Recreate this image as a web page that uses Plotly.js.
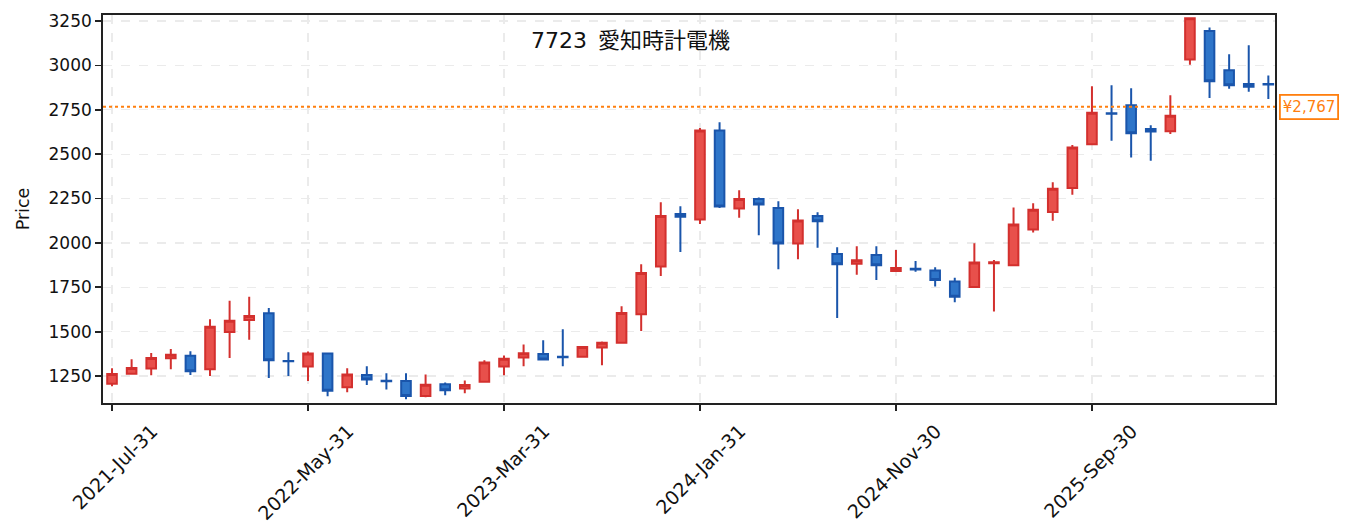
<!DOCTYPE html>
<html>
<head>
<meta charset="utf-8">
<script src="https://cdn.plot.ly/plotly-3.0.1.min.js"></script>
<style>
  html, body { margin: 0; padding: 0; background: #fff; }
  #chart { width: 1353px; height: 531px; }
</style>
</head>
<body>
<div id="chart"></div>
<script>
// month-end dates, one candle per month
const dates = [
  "2021-07-31", "2021-08-31", "2021-09-30", "2021-10-31", "2021-11-30", "2021-12-31",
  "2022-01-31", "2022-02-28", "2022-03-31", "2022-04-30", "2022-05-31", "2022-06-30",
  "2022-07-31", "2022-08-31", "2022-09-30", "2022-10-31", "2022-11-30", "2022-12-31",
  "2023-01-31", "2023-02-28", "2023-03-31", "2023-04-30", "2023-05-31", "2023-06-30",
  "2023-07-31", "2023-08-31", "2023-09-30", "2023-10-31", "2023-11-30", "2023-12-31",
  "2024-01-31", "2024-02-29", "2024-03-31", "2024-04-30", "2024-05-31", "2024-06-30",
  "2024-07-31", "2024-08-31", "2024-09-30", "2024-10-31", "2024-11-30", "2024-12-31",
  "2025-01-31", "2025-02-28", "2025-03-31", "2025-04-30", "2025-05-31", "2025-06-30",
  "2025-07-31", "2025-08-31", "2025-09-30", "2025-10-31", "2025-11-30", "2025-12-31",
  "2026-01-31", "2026-02-28", "2026-03-31", "2026-04-30", "2026-05-31", "2026-06-30"
];

const openPx = [
  1206, 1263, 1292, 1350, 1364, 1288, 1498, 1565, 1604, 1335,
  1303, 1377, 1187, 1256, 1223, 1222, 1138, 1204, 1180, 1218,
  1303, 1355, 1374, 1358, 1359, 1410, 1438, 1598, 1867, 2163,
  2132, 2633, 2194, 2248, 2197, 1996, 2152, 1938, 1882, 1932,
  1842, 1855, 1844, 1782, 1752, 1886, 1874, 2076, 2174, 2309,
  2556, 2731, 2776, 2642, 2629, 3033, 3194, 2973, 2895, 2895
];
const highPx = [
  1294, 1345, 1379, 1402, 1390, 1570, 1674, 1697, 1633, 1384,
  1388, 1377, 1294, 1305, 1265, 1265, 1259, 1214, 1225, 1339,
  1365, 1427, 1451, 1513, 1414, 1445, 1643, 1880, 2229, 2207,
  2647, 2680, 2297, 2256, 2235, 2190, 2173, 1976, 1981, 1981,
  1960, 1898, 1863, 1803, 1998, 1904, 2200, 2223, 2342, 2551,
  2883, 2888, 2871, 2663, 2832, 3268, 3213, 3063, 3114, 2943
];
const lowPx = [
  1193, 1263, 1254, 1288, 1256, 1250, 1352, 1455, 1239, 1250,
  1222, 1136, 1159, 1199, 1174, 1119, 1131, 1142, 1153, 1218,
  1254, 1305, 1342, 1305, 1359, 1310, 1438, 1504, 1814, 1949,
  2107, 2197, 2141, 2043, 1851, 1908, 1972, 1577, 1820, 1791,
  1840, 1838, 1754, 1666, 1752, 1613, 1874, 2058, 2125, 2271,
  2556, 2575, 2481, 2463, 2614, 3004, 2817, 2868, 2851, 2811
];
const closePx = [
  1261, 1295, 1352, 1370, 1277, 1528, 1562, 1588, 1339, 1333,
  1377, 1167, 1258, 1231, 1221, 1138, 1201, 1170, 1200, 1326,
  1348, 1378, 1343, 1356, 1414, 1438, 1605, 1831, 2152, 2147,
  2633, 2205, 2248, 2216, 1996, 2126, 2122, 1880, 1902, 1874,
  1858, 1850, 1791, 1696, 1889, 1891, 2103, 2187, 2305, 2538,
  2733, 2727, 2618, 2628, 2716, 3265, 2911, 2888, 2880, 2893
];

const tickDates = ["2021-07-31", "2022-05-31", "2023-03-31", "2024-01-31", "2024-11-30", "2025-09-30"];
const tickLabels = ["2021-Jul-31", "2022-May-31", "2023-Mar-31", "2024-Jan-31", "2024-Nov-30", "2025-Sep-30"];

const lastPrice = 2767;
const titleText = "7723\u2002愛知時計電機";

const FONT = "DejaVu Sans, Noto Sans CJK JP, sans-serif";

var data = [
  {
    type: "candlestick",
    x: dates,
    open: openPx,
    high: highPx,
    low: lowPx,
    close: closePx,
    whiskerwidth: 0,
    increasing: { line: { color: "#d3302e", width: 2 }, fillcolor: "#e8504b" },
    decreasing: { line: { color: "#1a55ab", width: 2 }, fillcolor: "#2e75c9" },
    showlegend: false,
    hoverinfo: "skip"
  }
];

var layout = {
  width: 1353,
  height: 531,
  margin: { l: 103, r: 78, t: 15, b: 128 },
  paper_bgcolor: "#ffffff",
  plot_bgcolor: "#ffffff",
  font: { family: FONT, color: "#111111", size: 17 },
  showlegend: false,
  xaxis: {
    type: "category",
    range: [-0.46, 59.34],
    rangeslider: { visible: false },
    tickmode: "array",
    tickvals: tickDates,
    ticktext: tickLabels,
    tickangle: -45,
    tickfont: { size: 19 },
    ticklabelshift: 40,
    ticklabelstandoff: 2,
    ticks: "outside",
    ticklen: 6,
    tickwidth: 1.8,
    tickcolor: "#222",
    showline: true,
    linecolor: "#222",
    linewidth: 1.8,
    mirror: true,
    showgrid: true,
    gridcolor: "#ebebeb",
    griddash: "dash",
    gridwidth: 1.2,
    zeroline: false
  },
  yaxis: {
    range: [1098, 3284],
    tickvals: [1250, 1500, 1750, 2000, 2250, 2500, 2750, 3000, 3250],
    tickfont: { size: 17 },
    ticks: "outside",
    ticklen: 6,
    tickwidth: 1.8,
    tickcolor: "#222",
    showline: true,
    linecolor: "#222",
    linewidth: 1.8,
    mirror: true,
    showgrid: true,
    gridcolor: "#ebebeb",
    griddash: "dash",
    gridwidth: 1.2,
    zeroline: false,
    title: { text: "Price", font: { size: 17.5 }, standoff: 14 }
  },
  shapes: [
    {
      type: "line",
      xref: "paper", x0: 0, x1: 1,
      yref: "y", y0: lastPrice, y1: lastPrice,
      line: { color: "#ff7f0e", width: 2.2, dash: "dot" }
    }
  ],
  annotations: [
    {
      xref: "paper", yref: "paper",
      x: 0.45, y: 0.972,
      xanchor: "center", yanchor: "top",
      text: titleText,
      showarrow: false,
      font: { size: 22, color: "#111" }
    },
    {
      xref: "paper", yref: "y",
      x: 1.003, y: lastPrice,
      xanchor: "left", yanchor: "middle",
      text: "¥" + lastPrice.toLocaleString("en-US"),
      showarrow: false,
      font: { size: 15, color: "#ff7f0e" },
      bgcolor: "#ffffff",
      bordercolor: "#ff7f0e",
      borderwidth: 1.8,
      borderpad: 2
    }
  ]
};

Plotly.newPlot("chart", data, layout, { staticPlot: true, displayModeBar: false });
</script>
</body>
</html>
